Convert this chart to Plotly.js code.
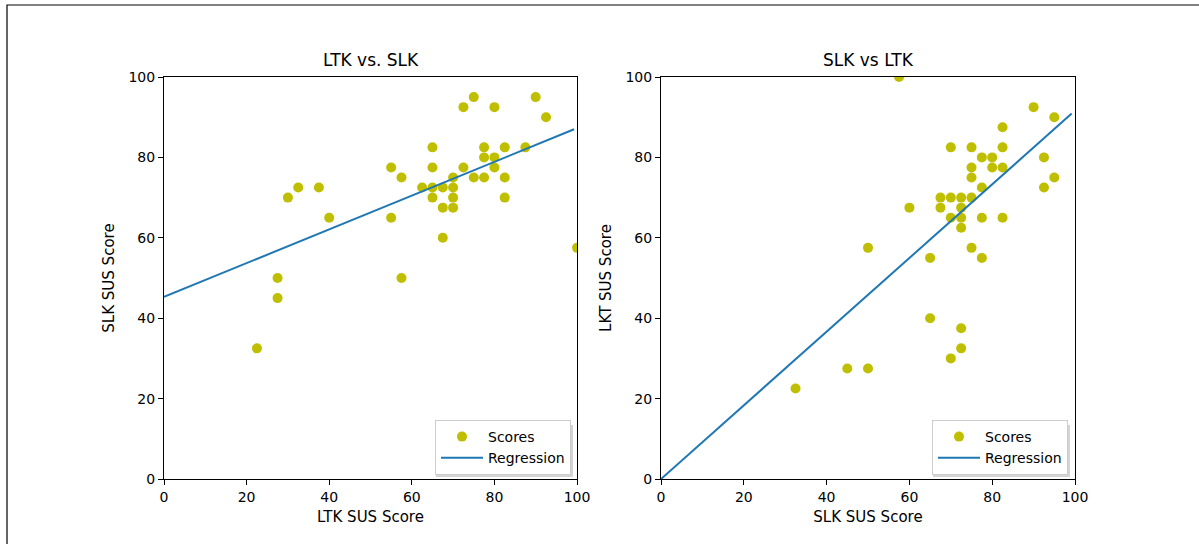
<!DOCTYPE html>
<html>
<head>
<meta charset="utf-8">
<script src="https://cdn.plot.ly/plotly-3.0.1.min.js"></script>
<style>
  html, body { margin: 0; padding: 0; background: #ffffff; }
  #chart { width: 1199px; height: 544px; }
</style>
</head>
<body>
<div id="chart"></div>
<script>
// SUS scores per participant (LTK and SLK)
const ltkScores = [100, 92.5, 90, 87.5, 82.5, 82.5, 82.5, 80, 80, 80,
                   77.5, 77.5, 77.5, 75, 75, 72.5, 72.5, 70, 70, 70,
                   70, 67.5, 67.5, 67.5, 65, 65, 65, 65, 62.5, 57.5,
                   57.5, 55, 55, 22.5, 27.5, 27.5, 40, 37.5, 32.5, 30];
const slkScores = [57.5, 90, 95, 82.5, 70, 75, 82.5, 77.5, 80, 92.5,
                   75, 80, 82.5, 75, 95, 77.5, 92.5, 67.5, 70, 72.5,
                   75, 60, 67.5, 72.5, 70, 72.5, 77.5, 82.5, 72.5, 50,
                   75, 65, 77.5, 32.5, 45, 50, 65, 72.5, 72.5, 70];

// Regression lines (x range and fitted y at its ends)
const regLeftX = [0, 99.3];
const regLeftY = [45.3, 87.0];
const regRightX = [0, 99.2];
const regRightY = [0, 90.9];

const tickVals = [0, 20, 40, 60, 80, 100];
const subplotTitles = ["LTK vs. SLK", "SLK vs LTK"];
const xTitles = ["LTK SUS Score", "SLK SUS Score"];
const yTitles = ["SLK SUS Score", "LKT SUS Score"];
const legendNames = ["Scores", "Regression"];

const W = 1199, H = 544;
const px = v => v / W;
const py = v => 1 - v / H;

const FONT = "DejaVu Sans, Verdana, sans-serif";
const markerColor = "#bfbf00";
const lineColor = "#1f77b4";

const traces = [
  { x: ltkScores, y: slkScores, type: "scatter", mode: "markers", name: legendNames[0],
    xaxis: "x", yaxis: "y", legend: "legend",
    marker: { color: markerColor, size: 10 } },
  { x: regLeftX, y: regLeftY, type: "scatter", mode: "lines", name: legendNames[1],
    xaxis: "x", yaxis: "y", legend: "legend",
    line: { color: lineColor, width: 2 } },
  { x: slkScores, y: ltkScores, type: "scatter", mode: "markers", name: legendNames[0],
    xaxis: "x2", yaxis: "y2", legend: "legend2",
    marker: { color: markerColor, size: 10 } },
  { x: regRightX, y: regRightY, type: "scatter", mode: "lines", name: legendNames[1],
    xaxis: "x2", yaxis: "y2", legend: "legend2",
    line: { color: lineColor, width: 2 } }
];

function axis(domain, title, anchor, isX) {
  return {
    domain: domain, anchor: anchor,
    range: [0, 100], tickvals: tickVals, ticktext: tickVals.map(String),
    ticks: "outside", ticklen: 5, tickwidth: 1, tickcolor: "#000",
    showline: true, linecolor: "#000", linewidth: 1, mirror: true,
    showgrid: false, zeroline: false, automargin: false,
    tickfont: { family: FONT, size: 14, color: "#000" },
    title: { text: title, font: { family: FONT, size: 15, color: "#000" }, standoff: isX ? 7 : 10 }
  };
}

const xd1 = [px(164), px(577)], xd2 = [px(661), px(1075)];
const yd = [py(479), py(77)];

function legendCfg(rightPx) {
  return {
    x: px(rightPx), y: py(475), xanchor: "right", yanchor: "bottom",
    xref: "paper", yref: "paper",
    bgcolor: "#ffffff", bordercolor: "#cccccc", borderwidth: 1,
    font: { family: FONT, size: 14, color: "#000" },
    tracegroupgap: 0, itemwidth: 42
  };
}

const layout = {
  width: W, height: H,
  margin: { l: 0, r: 0, t: 0, b: 0 },
  paper_bgcolor: "#ffffff", plot_bgcolor: "#ffffff",
  showlegend: true,
  xaxis: axis(xd1, xTitles[0], "y", true),
  yaxis: axis(yd, yTitles[0], "x", false),
  xaxis2: axis(xd2, xTitles[1], "y2", true),
  yaxis2: axis(yd, yTitles[1], "x2", false),
  legend: legendCfg(571),
  legend2: legendCfg(1068),
  annotations: [
    { text: subplotTitles[0], x: (xd1[0] + xd1[1]) / 2, y: py(72), xref: "paper", yref: "paper",
      xanchor: "center", yanchor: "bottom", showarrow: false,
      font: { family: FONT, size: 17, color: "#000" } },
    { text: subplotTitles[1], x: (xd2[0] + xd2[1]) / 2, y: py(72), xref: "paper", yref: "paper",
      xanchor: "center", yanchor: "bottom", showarrow: false,
      font: { family: FONT, size: 17, color: "#000" } }
  ],
  shapes: [
    { type: "rect", xref: "paper", yref: "paper", x0: px(7), x1: px(1210), y0: py(560), y1: py(5),
      line: { color: "#000", width: 1.2 }, fillcolor: "rgba(0,0,0,0)", layer: "below" },
    { type: "rect", xref: "paper", yref: "paper", x0: px(436), x1: px(573), y0: py(477), y1: py(425),
      line: { width: 0 }, fillcolor: "#d4d4d4", layer: "above" },
    { type: "rect", xref: "paper", yref: "paper", x0: px(933), x1: px(1070), y0: py(477), y1: py(425),
      line: { width: 0 }, fillcolor: "#d4d4d4", layer: "above" }
  ]
};

Plotly.newPlot("chart", traces, layout, { displayModeBar: false, staticPlot: true });
</script>
</body>
</html>
